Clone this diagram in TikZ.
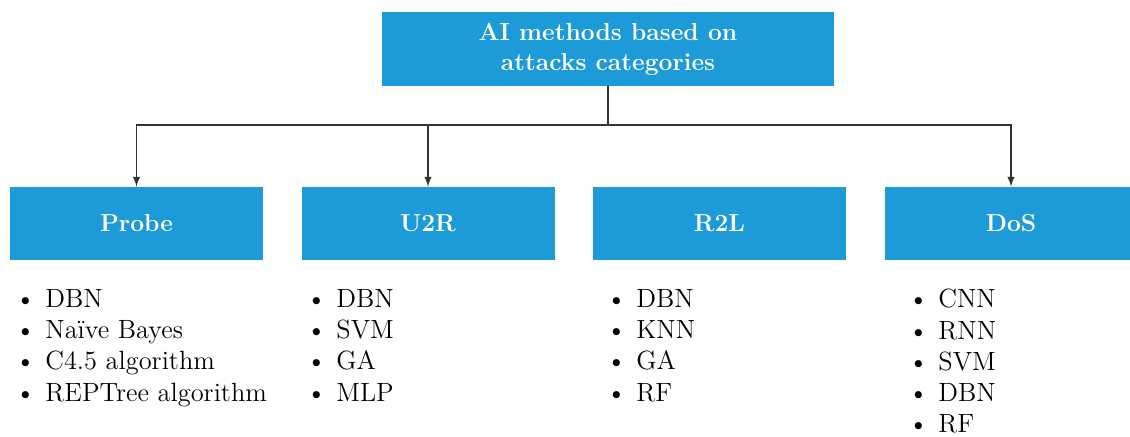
\documentclass[tikz,border=0pt]{standalone}
\usepackage{amssymb,amsmath}
\usepackage{tikz}
\usetikzlibrary{arrows}
\usetikzlibrary{positioning}
\definecolor{boxblue}{RGB}{29,155,216}
\newcommand{\itm}[1]{\makebox[15pt][l]{\textbullet}#1}

\begin{document}
\begin{tikzpicture}
		[x=0.5pt,y=-0.5pt,
		catbox/.style={rectangle,fill=boxblue,text=white,inner sep=0pt,
			minimum width=126.5pt,minimum height=36.5pt,
			font=\fontsize{12.3}{15}\selectfont\bfseries},
		itemlist/.style={anchor=north west,inner sep=0pt,align=left,
			font=\fontsize{13.2}{15.6}\selectfont},
		link/.style={line width=0.7pt,draw=black!80}]
		\useasboundingbox (0,0) rectangle (1130,437);
		\node[catbox,minimum width=226pt,minimum height=37pt,align=center] (root) at (608,49) {AI methods based on\\attacks categories};
		\node[catbox] (probe) at (136.5,223.5) {Probe};
		\node[catbox] (u2r) at (428,223.5) {U2R};
		\node[catbox] (r2l) at (719.5,223.5) {R2L};
		\node[catbox] (dos) at (1011,223.5) {DoS};
		\coordinate (split) at (608,125);
		
		\node[itemlist] (lprobe) at (15,289) {\itm{DBN}\\\itm{Na\"{\i}ve Bayes}\\\itm{C4.5 algorithm}\\\itm{REPTree algorithm}};
		\node[itemlist] (lu2r) at (306,289) {\itm{DBN}\\\itm{SVM}\\\itm{GA}\\\itm{MLP}};
		\node[itemlist] (lr2l) at (606,289) {\itm{DBN}\\\itm{KNN}\\\itm{GA}\\\itm{RF}};
		\node[itemlist] (ldos) at (908,289) {\itm{CNN}\\\itm{RNN}\\\itm{SVM}\\\itm{DBN}\\\itm{RF}};
		
		\draw[link] (root) -- (split);
		\foreach \to in {probe, u2r, dos}
		\draw[link,-latex] (split) -| (\to);
		\end{tikzpicture}
\end{document}
